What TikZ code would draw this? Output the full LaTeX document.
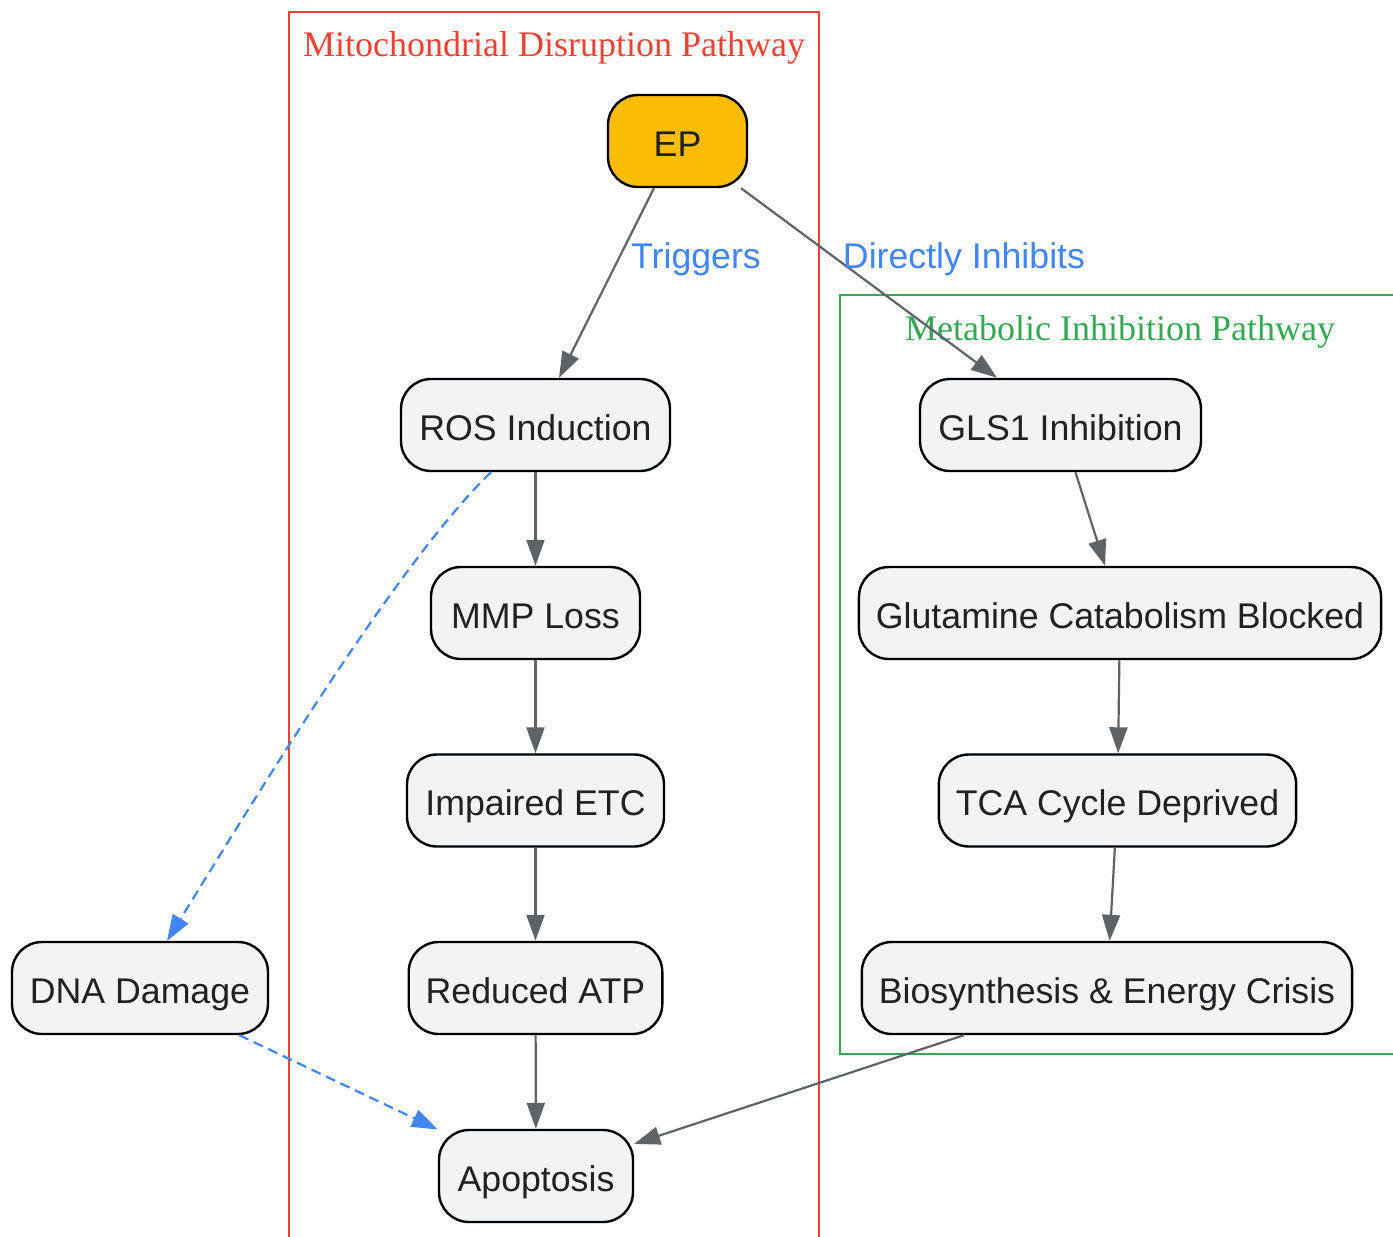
\documentclass[tikz,border=0pt]{standalone}
\usepackage{fontspec}
\setmainfont{Liberation Sans}
\newfontfamily\serifcl{Liberation Serif}
\usetikzlibrary{arrows.meta}
\definecolor{nodefill}{HTML}{F1F3F4}
\definecolor{epfill}{HTML}{FBBC04}
\definecolor{edgegray}{HTML}{5F6368}
\definecolor{gblue}{HTML}{4285F4}
\definecolor{gred}{HTML}{EA4335}
\definecolor{ggreen}{HTML}{34A853}
\definecolor{txt}{HTML}{202124}
\tikzset{
  box/.style={draw=black, line width=2.4pt, fill=nodefill, rounded corners=30pt,
    minimum height=92pt, inner xsep=17pt, text=txt, text height=30pt, text depth=0pt,
    font=\fontsize{35.7pt}{42pt}\selectfont},
  epbox/.style={box, fill=epfill},
  flow/.style={draw=edgegray, line width=2.2pt, -{Triangle[length=26pt,width=18pt]}},
  dflow/.style={draw=gblue, line width=2.2pt, dash pattern=on 10pt off 6pt,
    -{Triangle[length=26pt,width=18pt]}},
  elabel/.style={text=gblue, font=\fontsize{35.7pt}{42pt}\selectfont},
  cltitle/.style={font=\serifcl\fontsize{36pt}{42pt}\selectfont},
}
\begin{document}
\begin{tikzpicture}[x=1pt,y=-1pt]
\useasboundingbox (0,0) rectangle (1393,1237);
% clusters
\draw[gred, line width=2.2pt] (289,1240) -- (289,12) -- (819,12) -- (819,1240);
\node[cltitle, text=gred] (t1) at (554,48) {Mitochondrial Disruption Pathway};
\draw[ggreen, line width=2.2pt] (1396,295) -- (840,295) -- (840,1054) -- (1396,1054);
\node[cltitle, text=ggreen] (t2) at (1120,332) {Metabolic Inhibition Pathway};
% nodes
\node[epbox, minimum width=139pt] (ep) at (677.5,141) {EP};
\node[box, minimum width=269pt] (ros) at (535.5,425) {ROS Induction};
\node[box, minimum width=209pt] (mmp) at (535.5,613) {MMP Loss};
\node[box, minimum width=257pt] (etc) at (535.5,800.5) {Impaired ETC};
\node[box, minimum width=253pt] (atp) at (535.5,988) {Reduced ATP};
\node[box, minimum width=194pt] (apo) at (536,1176) {Apoptosis};
\node[box, minimum width=256pt] (dna) at (140,988) {DNA Damage};
\node[box, minimum width=281pt] (gls) at (1060.5,425) {GLS1 Inhibition};
\node[box, minimum width=522pt] (glu) at (1120,613) {Glutamine Catabolism Blocked};
\node[box, minimum width=355pt] (tca) at (1117.5,800.5) {TCA Cycle Deprived};
\node[box, minimum width=486pt] (bio) at (1107,988) {Biosynthesis \& Energy Crisis};
% edges
\draw[flow] (ep) -- (ros);
\node[elabel] (l1) at (696,259) {Triggers};
\draw[flow] (ep) -- (gls);
\node[elabel] (l2) at (964,259) {Directly Inhibits};
\draw[flow] (ros) -- (mmp);
\draw[flow] (mmp) -- (etc);
\draw[flow] (etc) -- (atp);
\draw[flow] (atp) -- (apo);
\draw[flow] (gls) -- (glu);
\draw[flow] (glu) -- (tca);
\draw[flow] (tca) -- (bio);
\draw[flow] (bio) -- (apo);
\draw[dflow] ([xshift=-44.5pt]ros.south) .. controls (400,560) and (260,790) .. ([xshift=27pt]dna.north);
\draw[dflow] (dna) -- (apo);
\end{tikzpicture}
\end{document}
